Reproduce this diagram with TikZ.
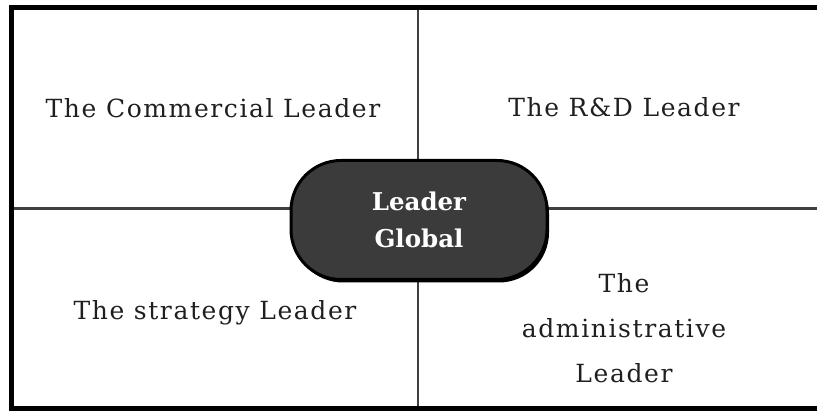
\documentclass[tikz,border=0pt]{standalone}
\usepackage{fontspec}
\setmainfont{DejaVu Serif}
\newfontfamily\quadfont[LetterSpace=6.4]{DejaVu Serif}
\usetikzlibrary{shadows}
\begin{document}
\begin{tikzpicture}[x=1pt,y=-1pt,
  frame/.style={line width=5pt, draw=black},
  divider/.style={line width=2.6pt, draw=black!75},
  quad/.style={font=\quadfont\fontsize{25}{45}\selectfont, text=black!88, align=center, inner sep=0pt},
  hub/.style={draw=black, line width=3pt, fill=black!77, rounded corners=50pt,
    minimum width=256pt, minimum height=119pt, text=white, inner sep=0pt,
    font=\bfseries\fontsize{24.5}{37}\selectfont, align=center,
    drop shadow={shadow xshift=2pt, shadow yshift=-3pt, fill=black, opacity=1}}
]
\useasboundingbox (0,0) rectangle (817,411);
\clip (0,0) rectangle (817,411);
\coordinate (tl) at (11.5,8);
\coordinate (br) at (840,408.5);
\coordinate (hl) at (11.5,208.5);
\coordinate (hr) at (817,208.5);
\coordinate (vt) at (418,8);
\coordinate (vb) at (418,408.5);
\draw[divider] (hl) -- (hr);
\draw[divider] (vt) -- (vb);
\draw[frame] (tl) rectangle (br);
\node[hub] (hub) at (419,220) {Leader\\Global};
\node[quad, anchor=base] (com) at (213,118) {The Commercial Leader};
\node[quad, anchor=base] (rd) at (624,117) {The R\&D Leader};
\node[quad, anchor=base] (str) at (215,320) {The strategy Leader};
\node[quad] (adm) at (624,328) {The\\administrative\\Leader};
\end{tikzpicture}
\end{document}
